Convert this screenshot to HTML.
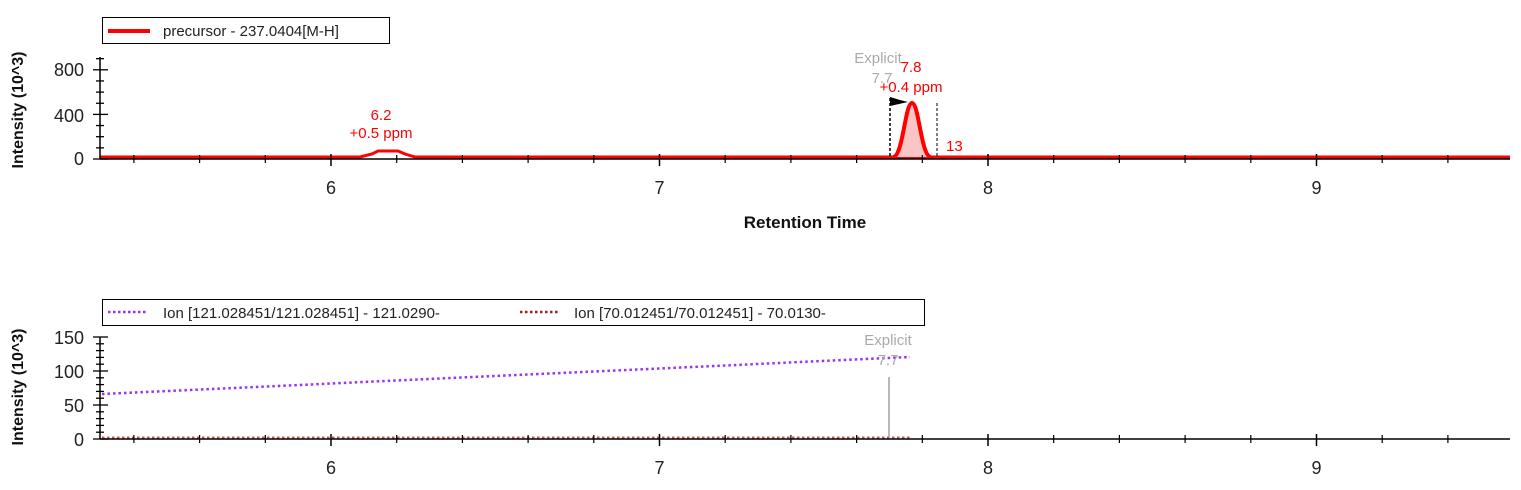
<!DOCTYPE html>
<html><head><meta charset="utf-8"><style>
html,body{margin:0;padding:0;background:#fff;width:1521px;height:490px;overflow:hidden}
svg{display:block;font-family:"Liberation Sans",Arial,sans-serif}
</style></head><body>
<svg id="s" width="1521" height="490" viewBox="0 0 1521 490" xmlns="http://www.w3.org/2000/svg">
<rect x="102.5" y="17.5" width="287" height="26" fill="#fff" stroke="#000"/>
<line x1="108" y1="31" x2="150" y2="31" stroke="#f00" stroke-width="4"/>
<text x="163" y="36" font-size="15" fill="#222">precursor - 237.0404[M-H]</text>
<path d="M100,157 L360,157 L372,154 L378,151 L398,151 L405,154 L415,157 L1510,157" fill="none" stroke="#f00" stroke-width="3"/>
<path d="M893,157 C903,157 905,103 912,103 C919,103 921,157 931,157 Z" fill="#f9c5c5"/>
<path d="M893,157 C903,157 905,103 912,103 C919,103 921,157 931,157" fill="none" stroke="#f00" stroke-width="4"/>
<line x1="890" y1="98" x2="890" y2="159" stroke="#000" stroke-dasharray="3,2" stroke-width="1.5"/>
<line x1="937" y1="103" x2="937" y2="159" stroke="#000" stroke-dasharray="3,2"/>
<path d="M890,97 L900,100 L908,102 L890,106 Z" fill="#000"/>
<text x="878" y="63" font-size="15" fill="#aaa" text-anchor="middle">Explicit</text>
<text x="882" y="83" font-size="15" fill="#aaa" text-anchor="middle">7.7</text>
<text x="911" y="72" font-size="15" fill="#f00" text-anchor="middle">7.8</text>
<text x="911" y="92" font-size="15" fill="#f00" text-anchor="middle">+0.4 ppm</text>
<text x="946" y="151" font-size="15" fill="#f00">13</text>
<text x="381" y="120" font-size="15" fill="#f00" text-anchor="middle">6.2</text>
<text x="381" y="138" font-size="15" fill="#f00" text-anchor="middle">+0.5 ppm</text>
<line x1="100" y1="159" x2="1510" y2="159" stroke="#000" stroke-width="1.5"/>
<line x1="100" y1="57" x2="100" y2="159" stroke="#000" stroke-width="1.5"/>
<text x="805" y="228" font-size="17" font-weight="bold" text-anchor="middle" fill="#111">Retention Time</text>
<text transform="translate(23,110) rotate(-90)" font-size="16" font-weight="bold" text-anchor="middle" fill="#111">Intensity (10^3)</text>
<rect x="102.5" y="299.5" width="822" height="26" fill="#fff" stroke="#000"/>
<line x1="108" y1="312" x2="148" y2="312" stroke="#9933ee" stroke-width="2.5" stroke-dasharray="2.5,2.5"/>
<text x="163" y="318" font-size="15" fill="#222">Ion [121.028451/121.028451] - 121.0290-</text>
<line x1="520" y1="312" x2="560" y2="312" stroke="#992222" stroke-width="2.5" stroke-dasharray="2.5,2.5"/>
<text x="574" y="318" font-size="15" fill="#222">Ion [70.012451/70.012451] - 70.0130-</text>
<line x1="102" y1="394" x2="910" y2="357" stroke="#9933ee" stroke-width="2.5" stroke-dasharray="2.5,3"/>
<line x1="102" y1="437.5" x2="910" y2="437.5" stroke="#cc5555" stroke-width="2" stroke-dasharray="2.5,2.5"/>
<line x1="889" y1="377" x2="889" y2="439" stroke="#888" stroke-width="1.2"/>
<text x="888" y="345" font-size="15" fill="#aaa" text-anchor="middle">Explicit</text>
<text x="888" y="365" font-size="15" fill="#aaa" text-anchor="middle">7.7</text>
<line x1="100" y1="439" x2="1510" y2="439" stroke="#000" stroke-width="1.5"/>
<line x1="100" y1="337" x2="100" y2="439" stroke="#000" stroke-width="1.5"/>
<text transform="translate(23,387) rotate(-90)" font-size="16" font-weight="bold" text-anchor="middle" fill="#111">Intensity (10^3)</text>
</svg>
<script>
var s=document.getElementById('s'),NS='http://www.w3.org/2000/svg';
function L(x1,y1,x2,y2,w){var e=document.createElementNS(NS,'line');e.setAttribute('x1',x1);e.setAttribute('y1',y1);e.setAttribute('x2',x2);e.setAttribute('y2',y2);e.setAttribute('stroke','#000');e.setAttribute('stroke-width',w||1.2);s.appendChild(e);}
function T(x,y,t,a){var e=document.createElementNS(NS,'text');e.setAttribute('x',x);e.setAttribute('y',y);e.setAttribute('font-size','18');e.setAttribute('fill','#222');e.setAttribute('text-anchor',a);e.textContent=t;s.appendChild(e);}
function X(v){return 331+(v-6)*328.5;}
[159,439].forEach(function(ay){
 for(var k=27;k<=48;k++){var v=k/5,x=X(v);if(x<100||x>1510)continue;
  var maj=(k%5==0);L(x,ay-(maj?5:4),x,ay+(maj?7:4),maj?1.5:1.2);
  if(maj)T(x,ay+35,String(v),'middle');}
});
for(var v=0;v<=900;v+=100){var y=159-v*0.1115;var maj=(v%400==0);L(maj?93:96,y,maj?108:104,y,1.3);}
T(84,76,'800','end');T(84,122,'400','end');T(84,165,'0','end');
for(var v=0;v<=150;v+=10){var y=439-v*0.68;var maj=(v%50==0);L(maj?93:96,y,maj?108:104,y,1.3);}
T(84,344,'150','end');T(84,378,'100','end');T(84,412,'50','end');T(84,446,'0','end');
</script>
</body></html>
